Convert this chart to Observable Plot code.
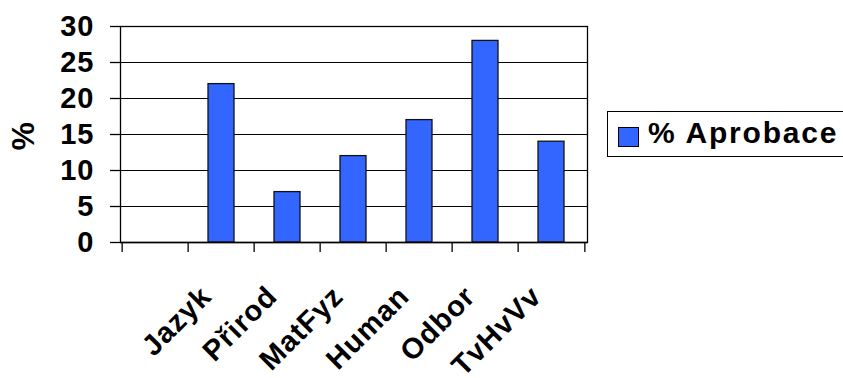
<!DOCTYPE html>
<html>
<head>
<meta charset="utf-8">
<script src="https://cdn.jsdelivr.net/npm/d3@7"></script>
<script src="https://cdn.jsdelivr.net/npm/@observablehq/plot@0.6"></script>
<style>
  html, body { margin: 0; padding: 0; background: #fff; }
  #wrap { position: relative; width: 843px; height: 378px; overflow: hidden; font-family: "Liberation Sans", Arial, sans-serif; }
  #legend { position: absolute; left: 607px; top: 111px; height: 44px; width: 260px; border: 1.5px solid #000; background: #fff; box-sizing: content-box; }
  #legend .sw { position: absolute; left: 10px; top: 15px; width: 19px; height: 18px; background: #3366FF; border: 1px solid #000; }
  #legend .lab { position: absolute; left: 40px; top: 4px; font-size: 30px; font-weight: bold; letter-spacing: 1.8px; color: #000; white-space: nowrap; line-height: 34px; }
</style>
</head>
<body>
<div id="wrap"></div>
<script>
const categories = [" ", "Jazyk", "Přirod", "MatFyz", "Human", "Odbor", "TvHvVv"];
const values = [null, 22, 7, 12, 17, 28, 14];
const yTicks = [0, 5, 10, 15, 20, 25, 30];
const seriesName = "% Aprobace";
const yLabel = "%";

const W = 843, H = 378;
const mLeft = 120, mRight = 256, mTop = 26, mBottom = 136;
const step = (W - mLeft - mRight) / categories.length;

const data = categories.map((c, i) => ({cat: c, val: values[i]}));
const bars = data.filter(d => d.val != null);

const chart = Plot.plot({
  width: W,
  height: H,
  marginLeft: mLeft,
  marginRight: mRight,
  marginTop: mTop,
  marginBottom: mBottom,
  style: {fontFamily: "Liberation Sans, Arial, sans-serif", color: "#000", background: "#fff"},
  x: {type: "band", domain: categories, paddingInner: 0.6, paddingOuter: 0.3},
  y: {domain: [0, 30]},
  marks: [
    Plot.ruleY(yTicks, {stroke: "#000", strokeWidth: 1.2}),
    Plot.frame({stroke: "#000", strokeWidth: 1.3}),
    Plot.barY(bars, {x: "cat", y: "val", fill: "#3366FF", stroke: "#111", strokeWidth: 1.3}),
    Plot.ruleY([0], {stroke: "#000", strokeWidth: 1.6}),
    Plot.ruleX(categories, {x: d => d, y1: 0, y2: 0, dx: -step / 2, insetBottom: -10, stroke: "#000", strokeWidth: 1.3}),
    Plot.ruleX(categories.slice(-1), {x: d => d, y1: 0, y2: 0, dx: step / 2, insetBottom: -10, stroke: "#000", strokeWidth: 1.3}),
    Plot.axisY(yTicks, {tickSize: 10, tickPadding: 16, fontSize: 29, fontWeight: "bold", label: null, stroke: "#000", strokeWidth: 1.3}),
    Plot.axisX({tickSize: 0, tickPadding: 0, tickRotate: -45, fontSize: 29, fontWeight: "bold", dy: 49, dx: -15, label: null}),
    Plot.text([yLabel], {frameAnchor: "left", dx: -97, dy: 16, rotate: -90, fontSize: 32, fontWeight: "bold", fill: "#000"})
  ]
});

const wrap = document.getElementById("wrap");
wrap.appendChild(chart);
chart.querySelectorAll("text").forEach(t => t.style.letterSpacing = "1px");

const legend = document.createElement("div");
legend.id = "legend";
legend.innerHTML = `<div class="sw"></div><div class="lab"></div>`;
legend.querySelector(".lab").textContent = seriesName;
wrap.appendChild(legend);
</script>
</body>
</html>
